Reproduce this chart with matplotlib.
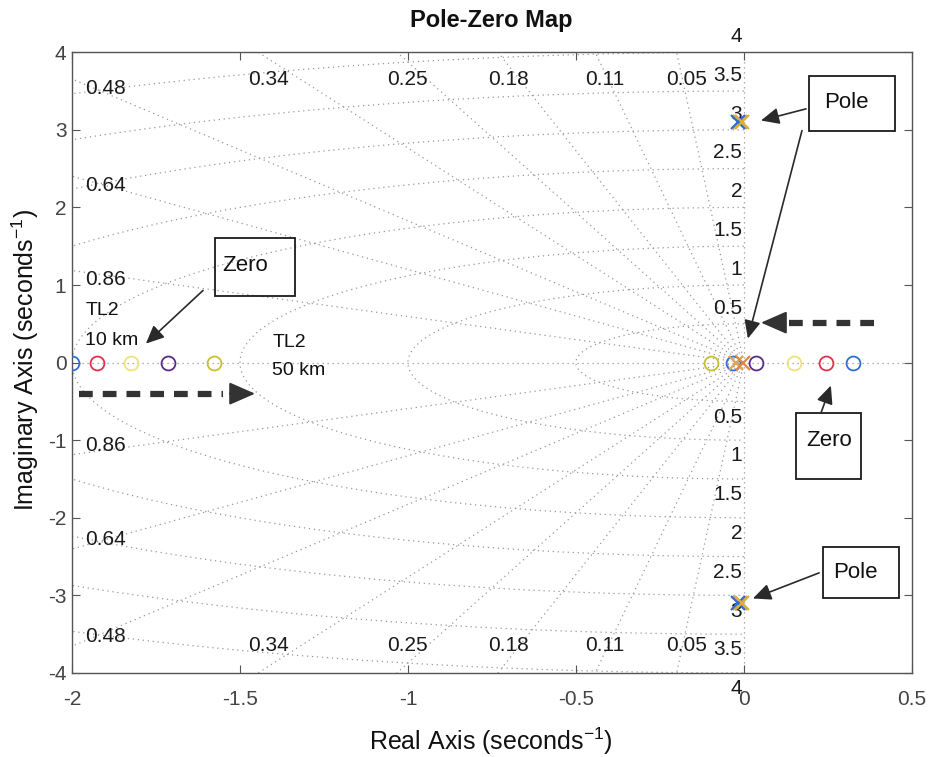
import matplotlib
matplotlib.use("Agg")
import matplotlib.pyplot as plt
import numpy as np
from matplotlib.patches import Rectangle

plt.rcParams["font.family"] = ["Liberation Sans", "DejaVu Sans"]
plt.rcParams["mathtext.fontset"] = "custom"
plt.rcParams["mathtext.rm"] = "Liberation Sans"
plt.rcParams["mathtext.it"] = "Liberation Sans:italic"

# axis ranges and ticks
X_LIM = (-2.0, 0.5)
Y_LIM = (-4.0, 4.0)
x_ticks = [-2, -1.5, -1, -0.5, 0, 0.5]
y_ticks = [-4, -3, -2, -1, 0, 1, 2, 3, 4]

# s-plane grid values
damping = [0.05, 0.11, 0.18, 0.25, 0.34, 0.48, 0.64, 0.86]
nat_freq = [0.5, 1.0, 1.5, 2.0, 2.5, 3.0, 3.5, 4.0]

# five line cases, one colour each
case_colors = ["#2f6fd0", "#e0324a", "#f0e27a", "#5a2a8c", "#c8c032"]
zeros_far = [-2.0, -1.925, -1.824, -1.714, -1.577]
zeros_near = [0.325, 0.244, 0.149, 0.036, -0.098]
extra_zero_re = [-0.033]
extra_zero_color = ["#2f6fd0"]

# poles (real part, imaginary part, colour)
pole_re = [-0.010, -0.016, -0.006, -0.024, -0.002]
pole_im = [3.1, 3.1, 3.1, 0.0, 0.0]
pole_colors = ["#e2a35a", "#2f6fd0", "#d8b040", "#e2a35a", "#e08a40"]

fig = plt.figure(figsize=(9.29, 7.57), dpi=100, facecolor="white")
ax = fig.add_axes([0.0775, 0.111, 0.904, 0.820])
ax.set_xlim(*X_LIM)
ax.set_ylim(*Y_LIM)

grid_kw = dict(color="#999999", linewidth=0.9, linestyle=(0, (1, 3)), zorder=1)

# natural frequency semicircles
theta = np.linspace(np.pi / 2, 3 * np.pi / 2, 400)
for wn in nat_freq:
    ax.plot(wn * np.cos(theta), wn * np.sin(theta), **grid_kw)

# constant damping rays
for z in damping:
    w = np.sqrt(1 - z ** 2)
    r = 10.0
    ax.plot([0, -z * r], [0, w * r], **grid_kw)
    ax.plot([0, -z * r], [0, -w * r], **grid_kw)

# real and imaginary axes
ax.plot([X_LIM[0], X_LIM[1]], [0, 0], **grid_kw)
ax.plot([0, 0], [Y_LIM[0], Y_LIM[1]], **grid_kw)

# damping labels where each ray leaves the box
lab_kw = dict(fontsize=15, color="#1a1a1a", zorder=2)
for z in damping:
    w = np.sqrt(1 - z ** 2)
    x_top = -Y_LIM[1] * z / w
    if x_top >= X_LIM[0]:
        for s in (1, -1):
            ax.text(x_top + 0.03, s * (Y_LIM[1] - 0.35), f"{z:g}",
                    ha="center", va="center", **lab_kw)
    else:
        y_left = -X_LIM[0] * w / z
        for s in (1, -1):
            ax.text(X_LIM[0] + 0.04, s * (y_left - 0.12), f"{z:g}",
                    ha="left", va="center", **lab_kw)

# natural frequency labels along the imaginary axis
for wn in nat_freq:
    ax.text(-0.005, wn + 0.08, f"{wn:g}", ha="right", va="bottom",
            clip_on=False, **lab_kw)
    ax.text(-0.005, -wn - 0.08, f"{wn:g}", ha="right", va="top",
            clip_on=False, **lab_kw)

# zeros
for xs in (zeros_far, zeros_near):
    for x, c in zip(xs, case_colors):
        ax.plot(x, 0, "o", ms=10, mfc="none", mec=c, mew=1.3, zorder=4)
for x, c in zip(extra_zero_re, extra_zero_color):
    ax.plot(x, 0, "o", ms=10, mfc="none", mec=c, mew=1.3, zorder=4)

# poles
for x, y, c in zip(pole_re, pole_im, pole_colors):
    ax.plot(x, y, "x", ms=10, mec=c, mew=1.6, zorder=5)
    if y != 0:
        ax.plot(x, -y, "x", ms=10, mec=c, mew=1.6, zorder=5)

# callout boxes
box_kw = dict(fill=False, edgecolor="#1a1a1a", linewidth=1.3, zorder=6)
note_kw = dict(fontsize=16, color="#111111", va="center", ha="left", zorder=7)
arrow_kw = dict(arrowstyle="-|>,head_length=1.1,head_width=0.5",
                color="#2a2a2a", lw=1.2, shrinkA=0, shrinkB=0)

# Pole (upper)
ax.add_patch(Rectangle((0.194, 2.99), 0.256, 0.71, **box_kw))
ax.text(0.238, 3.35, "Pole", **note_kw)
ax.annotate("", xy=(0.051, 3.12), xytext=(0.185, 3.27), arrowprops=arrow_kw, zorder=7)
ax.annotate("", xy=(0.012, 0.31), xytext=(0.173, 2.99), arrowprops=arrow_kw, zorder=7)

# Zero (upper left)
ax.add_patch(Rectangle((-1.574, 0.86), 0.239, 0.74, **box_kw))
ax.text(-1.553, 1.25, "Zero", **note_kw)
ax.annotate("", xy=(-1.78, 0.245), xytext=(-1.61, 0.93), arrowprops=arrow_kw, zorder=7)

# Zero (lower right)
ax.add_patch(Rectangle((0.155, -1.495), 0.194, 0.851, **box_kw))
ax.text(0.185, -1.0, "Zero", **note_kw)
ax.annotate("", xy=(0.259, -0.296), xytext=(0.23, -0.644), arrowprops=arrow_kw, zorder=7)

# Pole (lower)
ax.add_patch(Rectangle((0.235, -3.04), 0.227, 0.66, **box_kw))
ax.text(0.265, -2.71, "Pole", **note_kw)
ax.annotate("", xy=(0.027, -3.04), xytext=(0.224, -2.71), arrowprops=arrow_kw, zorder=7)

# line case captions
cap_kw = dict(fontsize=14, color="#111111", ha="left", va="center", zorder=7)
ax.text(-1.96, 0.67, "TL2", **cap_kw)
ax.text(-1.96, 0.28, "10 km", **cap_kw)
ax.text(-1.404, 0.26, "TL2", **cap_kw)
ax.text(-1.404, -0.10, "50 km", **cap_kw)

# dashed direction arrows
dash_kw = dict(color="#333333", lw=4.5, linestyle=(0, (2.2, 1.6)),
               dash_capstyle="butt", zorder=7)
head_kw = dict(arrowstyle="-|>,head_length=1.6,head_width=0.7", color="#333333",
               lw=1.5, shrinkA=0, shrinkB=0)
ax.plot([-1.98, -1.55], [-0.40, -0.40], **dash_kw)
ax.annotate("", xy=(-1.455, -0.40), xytext=(-1.53, -0.40), arrowprops=head_kw, zorder=8)
ax.plot([0.387, 0.13], [0.515, 0.515], **dash_kw)
ax.annotate("", xy=(0.051, 0.515), xytext=(0.12, 0.515), arrowprops=head_kw, zorder=8)

# axes styling
ax.set_xticks(x_ticks)
ax.set_xticklabels([f"{t:g}" for t in x_ticks])
ax.set_yticks(y_ticks)
ax.set_yticklabels([f"{t:g}" for t in y_ticks])
ax.tick_params(axis="both", direction="in", length=6, width=0.8, color="#555555",
               labelsize=15, labelcolor="#444444", top=True, right=True)
ax.tick_params(axis="x", pad=12)
ax.tick_params(axis="y", pad=4)
for sp in ax.spines.values():
    sp.set_color("#555555")
    sp.set_linewidth(1.0)

fig.text(0.529, 0.973, "Pole-Zero Map", ha="center", va="center",
         fontsize=17, fontweight="bold", color="#111111")
fig.text(0.528, 0.021, "Real Axis (seconds$^{-1}$)", ha="center", va="center",
         fontsize=18, color="#111111")
fig.text(0.027, 0.524, "Imaginary Axis (seconds$^{-1}$)", ha="center", va="center",
         rotation=90, fontsize=18, color="#111111")

fig.savefig("out.png", dpi=100, facecolor="white")
